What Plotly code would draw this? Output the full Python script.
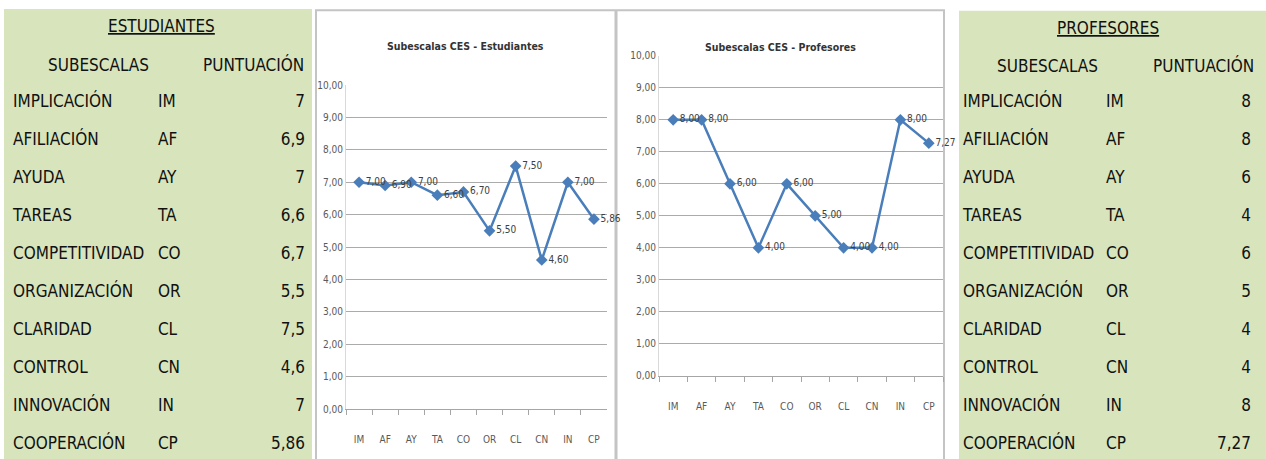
import plotly.graph_objects as go

W, H = 1266, 459


def px(x):
    return x / W


def py(y):
    return (H - y) / H


# ---------------- data ----------------
subescalas = ["IMPLICACIÓN", "AFILIACIÓN", "AYUDA", "TAREAS", "COMPETITIVIDAD",
              "ORGANIZACIÓN", "CLARIDAD", "CONTROL", "INNOVACIÓN", "COOPERACIÓN"]
codigos = ["IM", "AF", "AY", "TA", "CO", "OR", "CL", "CN", "IN", "CP"]
estudiantes = [7, 6.9, 7, 6.6, 6.7, 5.5, 7.5, 4.6, 7, 5.86]
profesores = [8, 8, 6, 4, 6, 5, 4, 4, 8, 7.27]
y_ticks = [0, 1, 2, 3, 4, 5, 6, 7, 8, 9, 10]

titulo_est = "ESTUDIANTES"
titulo_prof = "PROFESORES"
cab_sub = "SUBESCALAS"
cab_punt = "PUNTUACIÓN"
chart_title_est = "Subescalas CES - Estudiantes"
chart_title_prof = "Subescalas CES - Profesores"

NARROW = "Liberation Sans Narrow, Arial Narrow, DejaVu Sans Condensed, sans-serif"
GREEN = "#D8E4BC"
BLUE = "#4A7EBB"
GRID = "#ABABAB"


def fmt(v):
    return f"{v:g}".replace(".", ",")


fig = go.Figure()

# ---------------- tables ----------------
def add_table(x0, x1, values):
    fig.add_trace(go.Table(
        domain=dict(x=[px(x0), px(x1)], y=[0, py(67)]),
        columnwidth=[144, 50, 112],
        header=dict(values=[], fill_color="rgba(0,0,0,0)",
                    line_color="rgba(0,0,0,0)"),
        cells=dict(
            values=[subescalas, codigos, [fmt(v) for v in values]],
            align=["left", "left", "right"],
            height=38,
            fill_color="rgba(0,0,0,0)",
            line_color="rgba(0,0,0,0)",
            font=dict(family=NARROW, size=17, color="#111111"),
        ),
    ))


add_table(5, 313, estudiantes)
add_table(955, 1260, profesores)

# ---------------- charts ----------------
fig.add_trace(go.Scatter(
    x=codigos, y=estudiantes, mode="lines+markers+text",
    line=dict(color=BLUE, width=2.5),
    marker=dict(symbol="diamond", size=9, color=BLUE),
    texttemplate="%{y:.2f}", textposition="middle right",
    textfont=dict(family=NARROW, size=10, color="#404040"),
    cliponaxis=False, showlegend=False, xaxis="x", yaxis="y",
))
fig.add_trace(go.Scatter(
    x=codigos, y=profesores, mode="lines+markers+text",
    line=dict(color=BLUE, width=2.5),
    marker=dict(symbol="diamond", size=9, color=BLUE),
    texttemplate="%{y:.2f}", textposition="middle right",
    textfont=dict(family=NARROW, size=10, color="#404040"),
    cliponaxis=False, showlegend=False, xaxis="x2", yaxis="y2",
))

xa = dict(type="category", range=[-0.5, 9.5], tickson="boundaries",
          ticks="outside", ticklen=5, tickcolor="#A6A6A6", showgrid=False,
          showline=True, linecolor="#A6A6A6", linewidth=1,
          tickfont=dict(family=NARROW, size=10, color="#595959"),
          ticklabelstandoff=21, fixedrange=True)
ya = dict(range=[0, 10], tickvals=y_ticks, tickformat=".2f", showgrid=True,
          gridcolor=GRID, gridwidth=1, zeroline=False, showline=True,
          linecolor="#D9D9D9", ticks="",
          tickfont=dict(family=NARROW, size=10, color="#595959"),
          fixedrange=True)

fig.update_layout(
    width=W, height=H,
    margin=dict(l=0, r=0, t=0, b=0),
    paper_bgcolor="white", plot_bgcolor="white",
    separators=",.",
    showlegend=False,
    xaxis=dict(domain=[px(346), px(607)], anchor="y", **xa),
    yaxis=dict(domain=[py(414), py(82)], anchor="x", **ya),
    xaxis2=dict(domain=[px(659), px(943)], anchor="y2", **xa),
    yaxis2=dict(domain=[py(380), py(52)], anchor="x2", **ya),
)

# ---------------- backgrounds / frames ----------------
shapes = [
    dict(type="rect", xref="paper", yref="paper", x0=px(4), x1=px(312),
         y0=py(470), y1=py(4), fillcolor=GREEN, line=dict(width=0), layer="below"),
    dict(type="rect", xref="paper", yref="paper", x0=px(959), x1=px(1266),
         y0=py(470), y1=py(6), fillcolor=GREEN, line=dict(width=0), layer="below"),
    dict(type="rect", xref="paper", yref="paper", x0=px(316), x1=px(944),
         y0=py(475), y1=py(5.5), fillcolor="white",
         line=dict(color="#C4C4C4", width=2), layer="below"),
    dict(type="line", xref="paper", yref="paper", x0=px(616), x1=px(616),
         y0=py(475), y1=py(5.5), line=dict(color="#C4C4C4", width=3), layer="below"),
]
fig.update_layout(shapes=shapes)

# ---------------- text labels ----------------
ann = []
tfont = dict(family=NARROW, size=17, color="#111111")
base = dict(xref="paper", yref="paper", showarrow=False, yanchor="middle")
ann.append(dict(text="<u>" + titulo_est + "</u>", x=px(161), y=py(22),
                xanchor="center", font=tfont, **base))
ann.append(dict(text="<u>" + titulo_prof + "</u>", x=px(1108), y=py(24),
                xanchor="center", font=tfont, **base))
ann.append(dict(text=cab_sub, x=px(98), y=py(61), xanchor="center",
                font=tfont, **base))
ann.append(dict(text=cab_punt, x=px(306), y=py(61), xanchor="right",
                font=tfont, **base))
ann.append(dict(text=cab_sub, x=px(1047), y=py(62), xanchor="center",
                font=tfont, **base))
ann.append(dict(text=cab_punt, x=px(1256), y=py(62), xanchor="right",
                font=tfont, **base))
cfont = dict(family=NARROW, size=10.5, color="#333333")
ann.append(dict(text="<b>" + chart_title_est + "</b>", x=px(465), y=py(42),
                xanchor="center", font=cfont, **base))
ann.append(dict(text="<b>" + chart_title_prof + "</b>", x=px(780), y=py(43),
                xanchor="center", font=cfont, **base))
fig.update_layout(annotations=ann)

fig.write_html("out.html",
               config={"displayModeBar": False},
               post_script="document.body.style.margin='0';"
                           "document.body.style.overflow='hidden';")
